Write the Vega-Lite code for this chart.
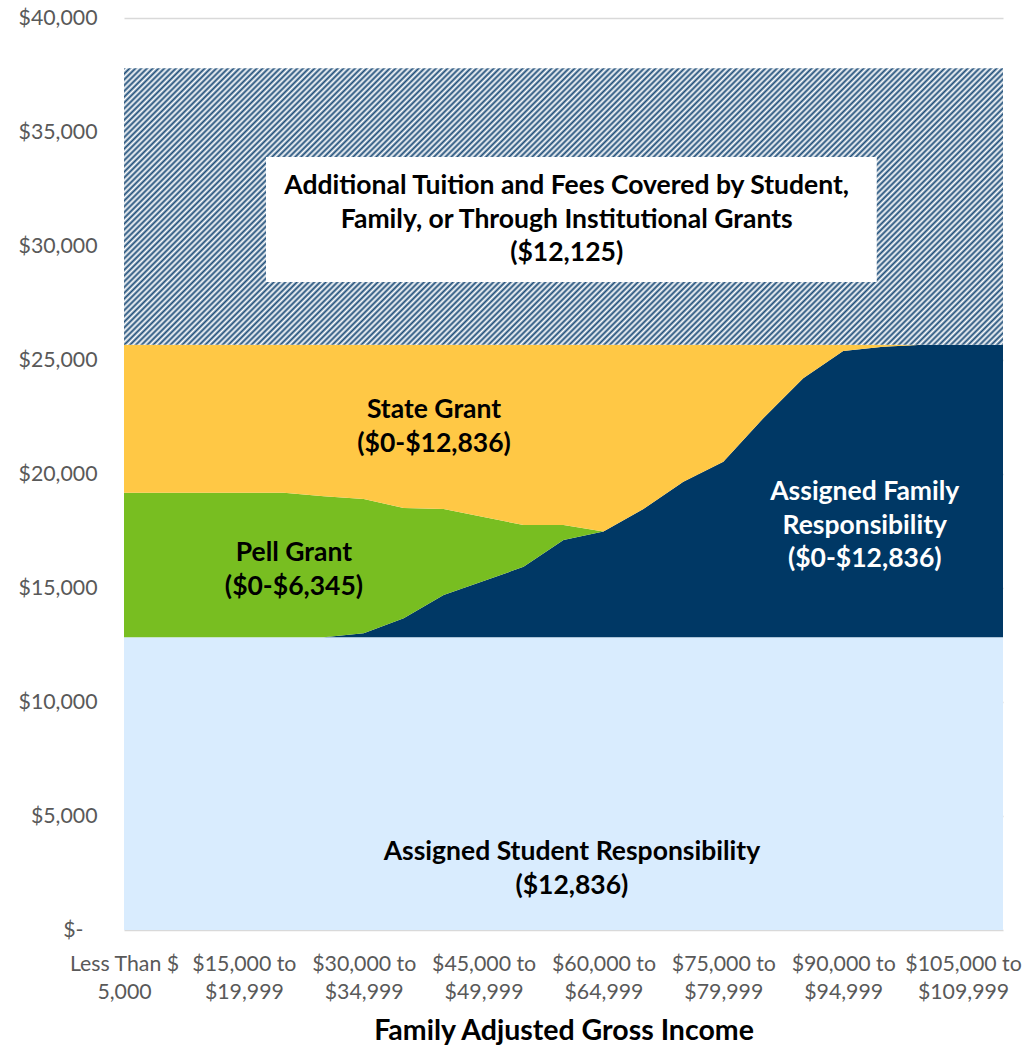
{
  "$schema": "https://vega.github.io/schema/vega-lite/v6.json",
  "width": 879,
  "height": 912,
  "autosize": {"type": "none"},
  "padding": {"left": 124, "top": 18, "right": 20, "bottom": 116},
  "background": "#ffffff",
  "config": {"view": {"stroke": null}, "font": "Lato"},
  "datasets": {
    "income": [
      {"income": "Less Than $5,000", "low": 0, "student": 12836, "family": 0, "pell": 6345, "state": 6491, "additional": 12125},
      {"income": "$5,000 to $9,999", "low": 5, "student": 12836, "family": 0, "pell": 6345, "state": 6491, "additional": 12125},
      {"income": "$10,000 to $14,999", "low": 10, "student": 12836, "family": 0, "pell": 6345, "state": 6491, "additional": 12125},
      {"income": "$15,000 to $19,999", "low": 15, "student": 12836, "family": 0, "pell": 6345, "state": 6491, "additional": 12125},
      {"income": "$20,000 to $24,999", "low": 20, "student": 12836, "family": 0, "pell": 6345, "state": 6491, "additional": 12125},
      {"income": "$25,000 to $29,999", "low": 25, "student": 12836, "family": 0, "pell": 6190, "state": 6646, "additional": 12125},
      {"income": "$30,000 to $34,999", "low": 30, "student": 12836, "family": 175, "pell": 5893, "state": 6768, "additional": 12125},
      {"income": "$35,000 to $39,999", "low": 35, "student": 12836, "family": 833, "pell": 4840, "state": 7163, "additional": 12125},
      {"income": "$40,000 to $44,999", "low": 40, "student": 12836, "family": 1855, "pell": 3774, "state": 7207, "additional": 12125},
      {"income": "$45,000 to $49,999", "low": 45, "student": 12836, "family": 2470, "pell": 2808, "state": 7558, "additional": 12125},
      {"income": "$50,000 to $54,999", "low": 50, "student": 12836, "family": 3092, "pell": 1835, "state": 7909, "additional": 12125},
      {"income": "$55,000 to $59,999", "low": 55, "student": 12836, "family": 4268, "pell": 659, "state": 7909, "additional": 12125},
      {"income": "$60,000 to $64,999", "low": 60, "student": 12836, "family": 4640, "pell": 0, "state": 8196, "additional": 12125},
      {"income": "$65,000 to $69,999", "low": 65, "student": 12836, "family": 5627, "pell": 0, "state": 7209, "additional": 12125},
      {"income": "$70,000 to $74,999", "low": 70, "student": 12836, "family": 6825, "pell": 0, "state": 6011, "additional": 12125},
      {"income": "$75,000 to $79,999", "low": 75, "student": 12836, "family": 7702, "pell": 0, "state": 5134, "additional": 12125},
      {"income": "$80,000 to $84,999", "low": 80, "student": 12836, "family": 9605, "pell": 0, "state": 3231, "additional": 12125},
      {"income": "$85,000 to $89,999", "low": 85, "student": 12836, "family": 11360, "pell": 0, "state": 1476, "additional": 12125},
      {"income": "$90,000 to $94,999", "low": 90, "student": 12836, "family": 12557, "pell": 0, "state": 279, "additional": 12125},
      {"income": "$95,000 to $99,999", "low": 95, "student": 12836, "family": 12746, "pell": 0, "state": 90, "additional": 12125},
      {"income": "$100,000 to $104,999", "low": 100, "student": 12836, "family": 12836, "pell": 0, "state": 0, "additional": 12125},
      {"income": "$105,000 to $109,999", "low": 105, "student": 12836, "family": 12836, "pell": 0, "state": 0, "additional": 12125},
      {"income": "$110,000 to $114,999", "low": 110, "student": 12836, "family": 12836, "pell": 0, "state": 0, "additional": 12125}
    ],
    "series": [
      {"key": "student", "rank": 1},
      {"key": "family", "rank": 2},
      {"key": "pell", "rank": 3},
      {"key": "state", "rank": 4},
      {"key": "additional", "rank": 5}
    ],
    "box": [{"x0": 17.77, "x1": 94.2, "y0": 28420, "y1": 33900}],
    "labels": [
      {"series": "additional", "label": "Additional Tuition and Fees Covered by Student,\nFamily, or Through Institutional Grants\n($12,125)", "x": 55.4, "y": 32630},
      {"series": "state", "label": "State Grant\n($0-$12,836)", "x": 38.8, "y": 22807},
      {"series": "pell", "label": "Pell Grant\n($0-$6,345)", "x": 21.27, "y": 16535},
      {"series": "family", "label": "Assigned Family\nResponsibility\n($0-$12,836)", "x": 92.7, "y": 19210},
      {"series": "student", "label": "Assigned Student Responsibility\n($12,836)", "x": 56.05, "y": 3421}
    ]
  },
  "layer": [
    {
      "data": {"name": "income"},
      "transform": [
        {"fold": ["student", "family", "pell", "state", "additional"], "as": ["key", "value"]},
        {"lookup": "key", "from": {"data": {"name": "series"}, "key": "key", "fields": ["rank"]}}
      ],
      "mark": {"type": "area", "interpolate": "linear"},
      "encoding": {
        "x": {
          "field": "low", "type": "quantitative",
          "scale": {"domain": [0, 110], "nice": false, "zero": false},
          "axis": {
            "values": [0, 15, 30, 45, 60, 75, 90, 105],
            "labelExpr": "datum.value == 0 ? ['Less Than $', '5,000'] : ['$' + format(datum.value * 1000, ',') + ' to', '$' + format(datum.value * 1000 + 4999, ',')]",
            "title": "Family Adjusted Gross Income",
            "titleFont": "Lato", "titleFontSize": 28.5, "titleFontWeight": "bold", "titleColor": "#000000", "titlePadding": 14,
            "labelFont": "Lato", "labelFontSize": 21.3, "labelColor": "#595959", "labelPadding": 23, "labelLineHeight": 28,
            "labelFlush": false, "labelOverlap": false, "labelBound": false,
            "ticks": false, "domain": false, "grid": false
          }
        },
        "y": {
          "field": "value", "type": "quantitative", "stack": "zero",
          "scale": {"domain": [0, 40000], "nice": false},
          "axis": {
            "values": [0, 5000, 10000, 15000, 20000, 25000, 30000, 35000, 40000],
            "labelExpr": "datum.value == 0 ? '$-' : '$' + format(datum.value, ',')",
            "title": null,
            "labelFont": "Lato", "labelFontSize": 21.3, "labelColor": "#595959",
            "labelPadding": {"condition": {"test": "datum.value == 0", "value": 41}, "value": 27},
            "ticks": false, "domain": false, "grid": true, "gridColor": "#d9d9d9", "gridWidth": 1.3
          }
        },
        "color": {
          "field": "key", "type": "nominal", "legend": null,
          "scale": {"domain": ["student", "family", "pell", "state", "additional"], "range": ["#d9ecfe", "#003865", "#78be21", "#ffc845", "#ffffff"]},
          "condition": {
            "test": "datum.key === 'additional'",
            "value": {
              "gradient": "linear", "x1": 0, "y1": 0, "x2": 1.1963, "y2": 0.377,
              "stops": [
{"offset":0,"color":"#1f4e79"},{"offset":0.0025,"color":"#fff"},{"offset":0.005,"color":"#1f4e79"},{"offset":0.0075,"color":"#fff"},
{"offset":0.01,"color":"#1f4e79"},{"offset":0.0125,"color":"#fff"},{"offset":0.015,"color":"#1f4e79"},{"offset":0.0175,"color":"#fff"},
{"offset":0.02,"color":"#1f4e79"},{"offset":0.0225,"color":"#fff"},{"offset":0.025,"color":"#1f4e79"},{"offset":0.0275,"color":"#fff"},
{"offset":0.03,"color":"#1f4e79"},{"offset":0.0325,"color":"#fff"},{"offset":0.035,"color":"#1f4e79"},{"offset":0.0375,"color":"#fff"},
{"offset":0.04,"color":"#1f4e79"},{"offset":0.0425,"color":"#fff"},{"offset":0.045,"color":"#1f4e79"},{"offset":0.0475,"color":"#fff"},
{"offset":0.05,"color":"#1f4e79"},{"offset":0.0525,"color":"#fff"},{"offset":0.055,"color":"#1f4e79"},{"offset":0.0575,"color":"#fff"},
{"offset":0.06,"color":"#1f4e79"},{"offset":0.0625,"color":"#fff"},{"offset":0.065,"color":"#1f4e79"},{"offset":0.0675,"color":"#fff"},
{"offset":0.07,"color":"#1f4e79"},{"offset":0.0725,"color":"#fff"},{"offset":0.075,"color":"#1f4e79"},{"offset":0.0775,"color":"#fff"},
{"offset":0.08,"color":"#1f4e79"},{"offset":0.0825,"color":"#fff"},{"offset":0.085,"color":"#1f4e79"},{"offset":0.0875,"color":"#fff"},
{"offset":0.09,"color":"#1f4e79"},{"offset":0.0925,"color":"#fff"},{"offset":0.095,"color":"#1f4e79"},{"offset":0.0975,"color":"#fff"},
{"offset":0.1,"color":"#1f4e79"},{"offset":0.1025,"color":"#fff"},{"offset":0.105,"color":"#1f4e79"},{"offset":0.1075,"color":"#fff"},
{"offset":0.11,"color":"#1f4e79"},{"offset":0.1125,"color":"#fff"},{"offset":0.115,"color":"#1f4e79"},{"offset":0.1175,"color":"#fff"},
{"offset":0.12,"color":"#1f4e79"},{"offset":0.1225,"color":"#fff"},{"offset":0.125,"color":"#1f4e79"},{"offset":0.1275,"color":"#fff"},
{"offset":0.13,"color":"#1f4e79"},{"offset":0.1325,"color":"#fff"},{"offset":0.135,"color":"#1f4e79"},{"offset":0.1375,"color":"#fff"},
{"offset":0.14,"color":"#1f4e79"},{"offset":0.1425,"color":"#fff"},{"offset":0.145,"color":"#1f4e79"},{"offset":0.1475,"color":"#fff"},
{"offset":0.15,"color":"#1f4e79"},{"offset":0.1525,"color":"#fff"},{"offset":0.155,"color":"#1f4e79"},{"offset":0.1575,"color":"#fff"},
{"offset":0.16,"color":"#1f4e79"},{"offset":0.1625,"color":"#fff"},{"offset":0.165,"color":"#1f4e79"},{"offset":0.1675,"color":"#fff"},
{"offset":0.17,"color":"#1f4e79"},{"offset":0.1725,"color":"#fff"},{"offset":0.175,"color":"#1f4e79"},{"offset":0.1775,"color":"#fff"},
{"offset":0.18,"color":"#1f4e79"},{"offset":0.1825,"color":"#fff"},{"offset":0.185,"color":"#1f4e79"},{"offset":0.1875,"color":"#fff"},
{"offset":0.19,"color":"#1f4e79"},{"offset":0.1925,"color":"#fff"},{"offset":0.195,"color":"#1f4e79"},{"offset":0.1975,"color":"#fff"},
{"offset":0.2,"color":"#1f4e79"},{"offset":0.2025,"color":"#fff"},{"offset":0.205,"color":"#1f4e79"},{"offset":0.2075,"color":"#fff"},
{"offset":0.21,"color":"#1f4e79"},{"offset":0.2125,"color":"#fff"},{"offset":0.215,"color":"#1f4e79"},{"offset":0.2175,"color":"#fff"},
{"offset":0.22,"color":"#1f4e79"},{"offset":0.2225,"color":"#fff"},{"offset":0.225,"color":"#1f4e79"},{"offset":0.2275,"color":"#fff"},
{"offset":0.23,"color":"#1f4e79"},{"offset":0.2325,"color":"#fff"},{"offset":0.235,"color":"#1f4e79"},{"offset":0.2375,"color":"#fff"},
{"offset":0.24,"color":"#1f4e79"},{"offset":0.2425,"color":"#fff"},{"offset":0.245,"color":"#1f4e79"},{"offset":0.2475,"color":"#fff"},
{"offset":0.25,"color":"#1f4e79"},{"offset":0.2525,"color":"#fff"},{"offset":0.255,"color":"#1f4e79"},{"offset":0.2575,"color":"#fff"},
{"offset":0.26,"color":"#1f4e79"},{"offset":0.2625,"color":"#fff"},{"offset":0.265,"color":"#1f4e79"},{"offset":0.2675,"color":"#fff"},
{"offset":0.27,"color":"#1f4e79"},{"offset":0.2725,"color":"#fff"},{"offset":0.275,"color":"#1f4e79"},{"offset":0.2775,"color":"#fff"},
{"offset":0.28,"color":"#1f4e79"},{"offset":0.2825,"color":"#fff"},{"offset":0.285,"color":"#1f4e79"},{"offset":0.2875,"color":"#fff"},
{"offset":0.29,"color":"#1f4e79"},{"offset":0.2925,"color":"#fff"},{"offset":0.295,"color":"#1f4e79"},{"offset":0.2975,"color":"#fff"},
{"offset":0.3,"color":"#1f4e79"},{"offset":0.3025,"color":"#fff"},{"offset":0.305,"color":"#1f4e79"},{"offset":0.3075,"color":"#fff"},
{"offset":0.31,"color":"#1f4e79"},{"offset":0.3125,"color":"#fff"},{"offset":0.315,"color":"#1f4e79"},{"offset":0.3175,"color":"#fff"},
{"offset":0.32,"color":"#1f4e79"},{"offset":0.3225,"color":"#fff"},{"offset":0.325,"color":"#1f4e79"},{"offset":0.3275,"color":"#fff"},
{"offset":0.33,"color":"#1f4e79"},{"offset":0.3325,"color":"#fff"},{"offset":0.335,"color":"#1f4e79"},{"offset":0.3375,"color":"#fff"},
{"offset":0.34,"color":"#1f4e79"},{"offset":0.3425,"color":"#fff"},{"offset":0.345,"color":"#1f4e79"},{"offset":0.3475,"color":"#fff"},
{"offset":0.35,"color":"#1f4e79"},{"offset":0.3525,"color":"#fff"},{"offset":0.355,"color":"#1f4e79"},{"offset":0.3575,"color":"#fff"},
{"offset":0.36,"color":"#1f4e79"},{"offset":0.3625,"color":"#fff"},{"offset":0.365,"color":"#1f4e79"},{"offset":0.3675,"color":"#fff"},
{"offset":0.37,"color":"#1f4e79"},{"offset":0.3725,"color":"#fff"},{"offset":0.375,"color":"#1f4e79"},{"offset":0.3775,"color":"#fff"},
{"offset":0.38,"color":"#1f4e79"},{"offset":0.3825,"color":"#fff"},{"offset":0.385,"color":"#1f4e79"},{"offset":0.3875,"color":"#fff"},
{"offset":0.39,"color":"#1f4e79"},{"offset":0.3925,"color":"#fff"},{"offset":0.395,"color":"#1f4e79"},{"offset":0.3975,"color":"#fff"},
{"offset":0.4,"color":"#1f4e79"},{"offset":0.4025,"color":"#fff"},{"offset":0.405,"color":"#1f4e79"},{"offset":0.4075,"color":"#fff"},
{"offset":0.41,"color":"#1f4e79"},{"offset":0.4125,"color":"#fff"},{"offset":0.415,"color":"#1f4e79"},{"offset":0.4175,"color":"#fff"},
{"offset":0.42,"color":"#1f4e79"},{"offset":0.4225,"color":"#fff"},{"offset":0.425,"color":"#1f4e79"},{"offset":0.4275,"color":"#fff"},
{"offset":0.43,"color":"#1f4e79"},{"offset":0.4325,"color":"#fff"},{"offset":0.435,"color":"#1f4e79"},{"offset":0.4375,"color":"#fff"},
{"offset":0.44,"color":"#1f4e79"},{"offset":0.4425,"color":"#fff"},{"offset":0.445,"color":"#1f4e79"},{"offset":0.4475,"color":"#fff"},
{"offset":0.45,"color":"#1f4e79"},{"offset":0.4525,"color":"#fff"},{"offset":0.455,"color":"#1f4e79"},{"offset":0.4575,"color":"#fff"},
{"offset":0.46,"color":"#1f4e79"},{"offset":0.4625,"color":"#fff"},{"offset":0.465,"color":"#1f4e79"},{"offset":0.4675,"color":"#fff"},
{"offset":0.47,"color":"#1f4e79"},{"offset":0.4725,"color":"#fff"},{"offset":0.475,"color":"#1f4e79"},{"offset":0.4775,"color":"#fff"},
{"offset":0.48,"color":"#1f4e79"},{"offset":0.4825,"color":"#fff"},{"offset":0.485,"color":"#1f4e79"},{"offset":0.4875,"color":"#fff"},
{"offset":0.49,"color":"#1f4e79"},{"offset":0.4925,"color":"#fff"},{"offset":0.495,"color":"#1f4e79"},{"offset":0.4975,"color":"#fff"},
{"offset":0.5,"color":"#1f4e79"},{"offset":0.5025,"color":"#fff"},{"offset":0.505,"color":"#1f4e79"},{"offset":0.5075,"color":"#fff"},
{"offset":0.51,"color":"#1f4e79"},{"offset":0.5125,"color":"#fff"},{"offset":0.515,"color":"#1f4e79"},{"offset":0.5175,"color":"#fff"},
{"offset":0.52,"color":"#1f4e79"},{"offset":0.5225,"color":"#fff"},{"offset":0.525,"color":"#1f4e79"},{"offset":0.5275,"color":"#fff"},
{"offset":0.53,"color":"#1f4e79"},{"offset":0.5325,"color":"#fff"},{"offset":0.535,"color":"#1f4e79"},{"offset":0.5375,"color":"#fff"},
{"offset":0.54,"color":"#1f4e79"},{"offset":0.5425,"color":"#fff"},{"offset":0.545,"color":"#1f4e79"},{"offset":0.5475,"color":"#fff"},
{"offset":0.55,"color":"#1f4e79"},{"offset":0.5525,"color":"#fff"},{"offset":0.555,"color":"#1f4e79"},{"offset":0.5575,"color":"#fff"},
{"offset":0.56,"color":"#1f4e79"},{"offset":0.5625,"color":"#fff"},{"offset":0.565,"color":"#1f4e79"},{"offset":0.5675,"color":"#fff"},
{"offset":0.57,"color":"#1f4e79"},{"offset":0.5725,"color":"#fff"},{"offset":0.575,"color":"#1f4e79"},{"offset":0.5775,"color":"#fff"},
{"offset":0.58,"color":"#1f4e79"},{"offset":0.5825,"color":"#fff"},{"offset":0.585,"color":"#1f4e79"},{"offset":0.5875,"color":"#fff"},
{"offset":0.59,"color":"#1f4e79"},{"offset":0.5925,"color":"#fff"},{"offset":0.595,"color":"#1f4e79"},{"offset":0.5975,"color":"#fff"},
{"offset":0.6,"color":"#1f4e79"},{"offset":0.6025,"color":"#fff"},{"offset":0.605,"color":"#1f4e79"},{"offset":0.6075,"color":"#fff"},
{"offset":0.61,"color":"#1f4e79"},{"offset":0.6125,"color":"#fff"},{"offset":0.615,"color":"#1f4e79"},{"offset":0.6175,"color":"#fff"},
{"offset":0.62,"color":"#1f4e79"},{"offset":0.6225,"color":"#fff"},{"offset":0.625,"color":"#1f4e79"},{"offset":0.6275,"color":"#fff"},
{"offset":0.63,"color":"#1f4e79"},{"offset":0.6325,"color":"#fff"},{"offset":0.635,"color":"#1f4e79"},{"offset":0.6375,"color":"#fff"},
{"offset":0.64,"color":"#1f4e79"},{"offset":0.6425,"color":"#fff"},{"offset":0.645,"color":"#1f4e79"},{"offset":0.6475,"color":"#fff"},
{"offset":0.65,"color":"#1f4e79"},{"offset":0.6525,"color":"#fff"},{"offset":0.655,"color":"#1f4e79"},{"offset":0.6575,"color":"#fff"},
{"offset":0.66,"color":"#1f4e79"},{"offset":0.6625,"color":"#fff"},{"offset":0.665,"color":"#1f4e79"},{"offset":0.6675,"color":"#fff"},
{"offset":0.67,"color":"#1f4e79"},{"offset":0.6725,"color":"#fff"},{"offset":0.675,"color":"#1f4e79"},{"offset":0.6775,"color":"#fff"},
{"offset":0.68,"color":"#1f4e79"},{"offset":0.6825,"color":"#fff"},{"offset":0.685,"color":"#1f4e79"},{"offset":0.6875,"color":"#fff"},
{"offset":0.69,"color":"#1f4e79"},{"offset":0.6925,"color":"#fff"},{"offset":0.695,"color":"#1f4e79"},{"offset":0.6975,"color":"#fff"},
{"offset":0.7,"color":"#1f4e79"},{"offset":0.7025,"color":"#fff"},{"offset":0.705,"color":"#1f4e79"},{"offset":0.7075,"color":"#fff"},
{"offset":0.71,"color":"#1f4e79"},{"offset":0.7125,"color":"#fff"},{"offset":0.715,"color":"#1f4e79"},{"offset":0.7175,"color":"#fff"},
{"offset":0.72,"color":"#1f4e79"},{"offset":0.7225,"color":"#fff"},{"offset":0.725,"color":"#1f4e79"},{"offset":0.7275,"color":"#fff"},
{"offset":0.73,"color":"#1f4e79"},{"offset":0.7325,"color":"#fff"},{"offset":0.735,"color":"#1f4e79"},{"offset":0.7375,"color":"#fff"},
{"offset":0.74,"color":"#1f4e79"},{"offset":0.7425,"color":"#fff"},{"offset":0.745,"color":"#1f4e79"},{"offset":0.7475,"color":"#fff"},
{"offset":0.75,"color":"#1f4e79"},{"offset":0.7525,"color":"#fff"},{"offset":0.755,"color":"#1f4e79"},{"offset":0.7575,"color":"#fff"},
{"offset":0.76,"color":"#1f4e79"},{"offset":0.7625,"color":"#fff"},{"offset":0.765,"color":"#1f4e79"},{"offset":0.7675,"color":"#fff"},
{"offset":0.77,"color":"#1f4e79"},{"offset":0.7725,"color":"#fff"},{"offset":0.775,"color":"#1f4e79"},{"offset":0.7775,"color":"#fff"},
{"offset":0.78,"color":"#1f4e79"},{"offset":0.7825,"color":"#fff"},{"offset":0.785,"color":"#1f4e79"},{"offset":0.7875,"color":"#fff"},
{"offset":0.79,"color":"#1f4e79"},{"offset":0.7925,"color":"#fff"},{"offset":0.795,"color":"#1f4e79"},{"offset":0.7975,"color":"#fff"},
{"offset":0.8,"color":"#1f4e79"},{"offset":0.8025,"color":"#fff"},{"offset":0.805,"color":"#1f4e79"},{"offset":0.8075,"color":"#fff"},
{"offset":0.81,"color":"#1f4e79"},{"offset":0.8125,"color":"#fff"},{"offset":0.815,"color":"#1f4e79"},{"offset":0.8175,"color":"#fff"},
{"offset":0.82,"color":"#1f4e79"},{"offset":0.8225,"color":"#fff"},{"offset":0.825,"color":"#1f4e79"},{"offset":0.8275,"color":"#fff"},
{"offset":0.83,"color":"#1f4e79"},{"offset":0.8325,"color":"#fff"},{"offset":0.835,"color":"#1f4e79"},{"offset":0.8375,"color":"#fff"},
{"offset":0.84,"color":"#1f4e79"},{"offset":0.8425,"color":"#fff"},{"offset":0.845,"color":"#1f4e79"},{"offset":0.8475,"color":"#fff"},
{"offset":0.85,"color":"#1f4e79"},{"offset":0.8525,"color":"#fff"},{"offset":0.855,"color":"#1f4e79"},{"offset":0.8575,"color":"#fff"},
{"offset":0.86,"color":"#1f4e79"},{"offset":0.8625,"color":"#fff"},{"offset":0.865,"color":"#1f4e79"},{"offset":0.8675,"color":"#fff"},
{"offset":0.87,"color":"#1f4e79"},{"offset":0.8725,"color":"#fff"},{"offset":0.875,"color":"#1f4e79"},{"offset":0.8775,"color":"#fff"},
{"offset":0.88,"color":"#1f4e79"},{"offset":0.8825,"color":"#fff"},{"offset":0.885,"color":"#1f4e79"},{"offset":0.8875,"color":"#fff"},
{"offset":0.89,"color":"#1f4e79"},{"offset":0.8925,"color":"#fff"},{"offset":0.895,"color":"#1f4e79"},{"offset":0.8975,"color":"#fff"},
{"offset":0.9,"color":"#1f4e79"},{"offset":0.9025,"color":"#fff"},{"offset":0.905,"color":"#1f4e79"},{"offset":0.9075,"color":"#fff"},
{"offset":0.91,"color":"#1f4e79"},{"offset":0.9125,"color":"#fff"},{"offset":0.915,"color":"#1f4e79"},{"offset":0.9175,"color":"#fff"},
{"offset":0.92,"color":"#1f4e79"},{"offset":0.9225,"color":"#fff"},{"offset":0.925,"color":"#1f4e79"},{"offset":0.9275,"color":"#fff"},
{"offset":0.93,"color":"#1f4e79"},{"offset":0.9325,"color":"#fff"},{"offset":0.935,"color":"#1f4e79"},{"offset":0.9375,"color":"#fff"},
{"offset":0.94,"color":"#1f4e79"},{"offset":0.9425,"color":"#fff"},{"offset":0.945,"color":"#1f4e79"},{"offset":0.9475,"color":"#fff"},
{"offset":0.95,"color":"#1f4e79"},{"offset":0.9525,"color":"#fff"},{"offset":0.955,"color":"#1f4e79"},{"offset":0.9575,"color":"#fff"},
{"offset":0.96,"color":"#1f4e79"},{"offset":0.9625,"color":"#fff"},{"offset":0.965,"color":"#1f4e79"},{"offset":0.9675,"color":"#fff"},
{"offset":0.97,"color":"#1f4e79"},{"offset":0.9725,"color":"#fff"},{"offset":0.975,"color":"#1f4e79"},{"offset":0.9775,"color":"#fff"},
{"offset":0.98,"color":"#1f4e79"},{"offset":0.9825,"color":"#fff"},{"offset":0.985,"color":"#1f4e79"},{"offset":0.9875,"color":"#fff"},
{"offset":0.99,"color":"#1f4e79"},{"offset":0.9925,"color":"#fff"},{"offset":0.995,"color":"#1f4e79"},{"offset":0.9975,"color":"#fff"},
{"offset":1,"color":"#1f4e79"}
              ]
            }
          }
        },
        "order": {"field": "rank", "type": "quantitative"}
      }
    },
    {
      "data": {"name": "box"},
      "mark": {"type": "rect", "fill": "#ffffff"},
      "encoding": {
        "x": {"field": "x0", "type": "quantitative", "scale": {"domain": [0, 110], "nice": false, "zero": false}},
        "x2": {"field": "x1"},
        "y": {"field": "y0", "type": "quantitative", "scale": {"domain": [0, 40000], "nice": false}},
        "y2": {"field": "y1"}
      }
    },
    {
      "data": {"name": "labels"},
      "mark": {"type": "text", "font": "Lato", "fontWeight": "bold", "fontSize": 26.5, "lineHeight": 33.5, "lineBreak": "\n", "align": "center", "baseline": "middle"},
      "encoding": {
        "x": {"field": "x", "type": "quantitative", "scale": {"domain": [0, 110], "nice": false, "zero": false}},
        "y": {"field": "y", "type": "quantitative", "scale": {"domain": [0, 40000], "nice": false}},
        "text": {"field": "label"},
        "color": {"condition": {"test": "datum.series === 'family'", "value": "#ffffff"}, "value": "#000000"}
      }
    }
  ]
}
